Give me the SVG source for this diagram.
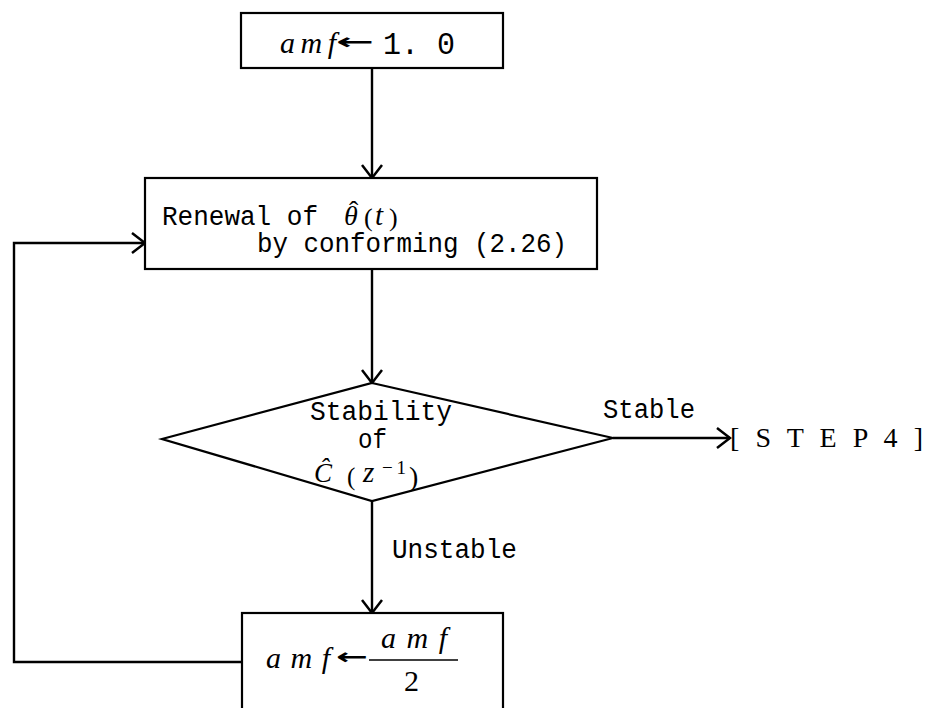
<svg xmlns="http://www.w3.org/2000/svg" width="930" height="708" viewBox="0 0 930 708">
  <defs>
    <marker id="open-arrow" markerUnits="userSpaceOnUse" markerWidth="16" markerHeight="24" refX="14" refY="11" orient="auto">
      <path d="M1,1 L14,11 L1,21" fill="none" stroke="#000" stroke-width="2.5"/>
    </marker>
    <style>
      .box { fill: #fff; stroke: #000; stroke-width: 2.2; }
      .line { fill: none; stroke: #000; stroke-width: 2.4; }
      .mono { font-family: "Liberation Mono", "DejaVu Sans Mono", monospace; fill: #000; }
      .it { font-family: "Liberation Serif", "Times New Roman", serif; font-style: italic; fill: #000; }
      .rm { font-family: "Liberation Serif", "Times New Roman", serif; fill: #000; }
      .sym { font-family: "DejaVu Sans", sans-serif; font-weight: bold; fill: #000; }
    </style>
  </defs>

  <!-- connectors -->
  <g id="connectors">
    <line class="line" x1="372" y1="68" x2="372" y2="178" marker-end="url(#open-arrow)"/>
    <line class="line" x1="372" y1="269" x2="372" y2="383" marker-end="url(#open-arrow)"/>
    <line class="line" x1="613" y1="438" x2="730" y2="438" marker-end="url(#open-arrow)"/>
    <line class="line" x1="372" y1="501" x2="372" y2="613" marker-end="url(#open-arrow)"/>
    <polyline class="line" points="242,662 14,662 14,243 145,243" marker-end="url(#open-arrow)"/>
    <text class="mono" font-size="27" x="603" y="418" textLength="92" lengthAdjust="spacingAndGlyphs">Stable</text>
    <text class="mono" font-size="27" x="392" y="558" textLength="125" lengthAdjust="spacingAndGlyphs">Unstable</text>
  </g>

  <!-- initial assignment -->
  <g id="init">
    <rect class="box" x="241" y="13" width="262" height="55"/>
    <text class="it" font-size="30" x="280" y="53" textLength="56" lengthAdjust="spacing">amf</text>
    <text class="sym" font-size="22" x="336" y="49" textLength="38" lengthAdjust="spacingAndGlyphs">←</text>
    <text class="mono" font-size="32" x="383" y="54" textLength="72" lengthAdjust="spacingAndGlyphs">1. 0</text>
  </g>

  <!-- parameter renewal -->
  <g id="renewal">
    <rect class="box" x="145" y="178" width="452" height="91"/>
    <text class="mono" font-size="27" x="162" y="225" textLength="156" lengthAdjust="spacingAndGlyphs">Renewal of</text>
    <text class="it" font-size="28" x="344" y="225">θ</text>
    <text class="rm" font-size="28" x="349" y="220">ˆ</text>
    <text class="rm" font-size="26" x="364" y="226">(</text>
    <text class="it" font-size="29" x="375" y="225">t</text>
    <text class="rm" font-size="26" x="389" y="226">)</text>
    <text class="mono" font-size="27" x="257" y="252" textLength="310" lengthAdjust="spacingAndGlyphs">by conforming (2.26)</text>
  </g>

  <!-- stability test -->
  <g id="decision">
    <polygon class="box" points="372,383 613,438 372,501 162,439"/>
    <text class="mono" font-size="27" x="310" y="420" textLength="142" lengthAdjust="spacingAndGlyphs">Stability</text>
    <text class="mono" font-size="27" x="358" y="448" textLength="29" lengthAdjust="spacingAndGlyphs">of</text>
    <text class="it" font-size="27" x="314" y="482">Ĉ</text>
    <text class="rm" font-size="25" x="347" y="485">(</text>
    <text class="it" font-size="29" x="363" y="482">z</text>
    <text class="rm" font-size="19" x="382" y="474" textLength="24" lengthAdjust="spacing">−1</text>
    <text class="rm" font-size="28" x="409" y="486">)</text>
  </g>

  <!-- exit label -->
  <g id="step4">
    <text class="rm" font-size="28" x="730" y="447" textLength="193" lengthAdjust="spacing">[ S T E P 4 ]</text>
  </g>

  <!-- halving step -->
  <g id="halve">
    <rect class="box" x="242" y="613" width="261" height="110"/>
    <text class="it" font-size="30" x="266" y="668" textLength="64" lengthAdjust="spacing">amf</text>
    <text class="sym" font-size="22" x="336" y="664" textLength="32" lengthAdjust="spacingAndGlyphs">←</text>
    <line x1="369" y1="660" x2="458" y2="660" stroke="#000" stroke-width="1.6"/>
    <text class="it" font-size="30" x="381" y="648" textLength="66" lengthAdjust="spacing">amf</text>
    <text class="rm" font-size="30" x="404" y="691">2</text>
  </g>
</svg>
